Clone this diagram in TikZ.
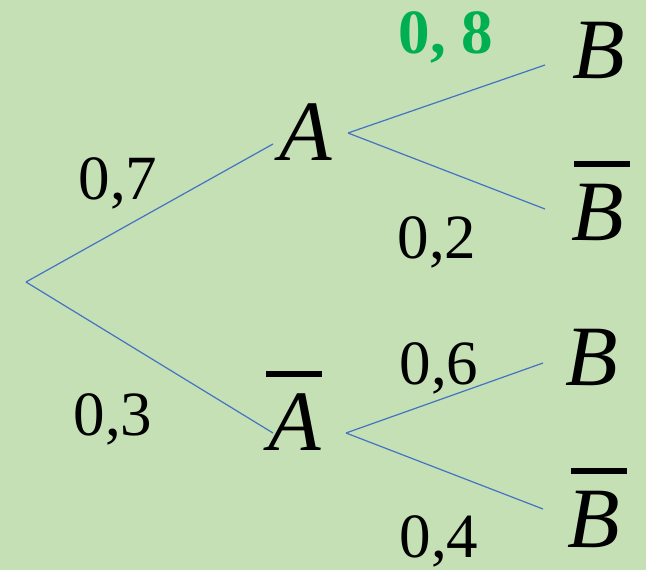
\documentclass[tikz,border=0pt]{standalone}
\usepackage{fontspec}
\setmainfont{Liberation Serif}
\definecolor{bgc}{HTML}{C5E0B4}
\definecolor{linec}{HTML}{4472C4}
\definecolor{grn}{HTML}{00B050}
\newcommand\barlet[2]{\leavevmode\rlap{\hspace{#2}\rule[73pt]{56pt}{6pt}}#1}
\tikzset{
  branch/.style={draw=linec, line width=1.2pt},
  prob/.style={inner sep=0pt, anchor=base, font=\fontsize{63}{63}\selectfont},
  event/.style={inner sep=0pt, anchor=base west, font=\fontsize{86}{86}\selectfont\itshape},
}
\begin{document}
\begin{tikzpicture}[x=1pt,y=-1pt]
\fill[bgc] (0,0) rectangle (646,570);
\useasboundingbox (0,0) rectangle (646,570);
% branch points
\coordinate (r) at (26,282);
\coordinate (Ain) at (273,144);
\coordinate (Aout) at (348,133);
\coordinate (Abin) at (273,433);
\coordinate (About) at (346,433);
\coordinate (B1in) at (545,65);
\coordinate (B2in) at (545,209);
\coordinate (B3in) at (543,363);
\coordinate (B4in) at (543,509);
% events
\node[event] (A) at (279,160) {A};
\node[event] (Ab) at (268,450) {\barlet{A}{-2pt}};
\node[event] (B1) at (572,78) {B};
\node[event] (B2) at (571,240) {\barlet{B}{3pt}};
\node[event] (B3) at (565,385) {B};
\node[event] (B4) at (567,547) {\barlet{B}{4pt}};
% probabilities
\node[prob] (p7) at (118,199) {0,7};
\node[prob] (p3) at (113,435) {0,3};
\node[prob, text=grn, font=\fontsize{63}{63}\selectfont\bfseries] (p8) at (446,53) {0, 8};
\node[prob] (p2) at (437,258) {0,2};
\node[prob] (p6) at (439,384) {0,6};
\node[prob] (p4) at (439,557) {0,4};
% branches
\draw[branch] (r) -- (Ain);
\draw[branch] (r) -- (Abin);
\draw[branch] (Aout) -- (B1in);
\draw[branch] (Aout) -- (B2in);
\draw[branch] (About) -- (B3in);
\draw[branch] (About) -- (B4in);
\end{tikzpicture}
\end{document}
